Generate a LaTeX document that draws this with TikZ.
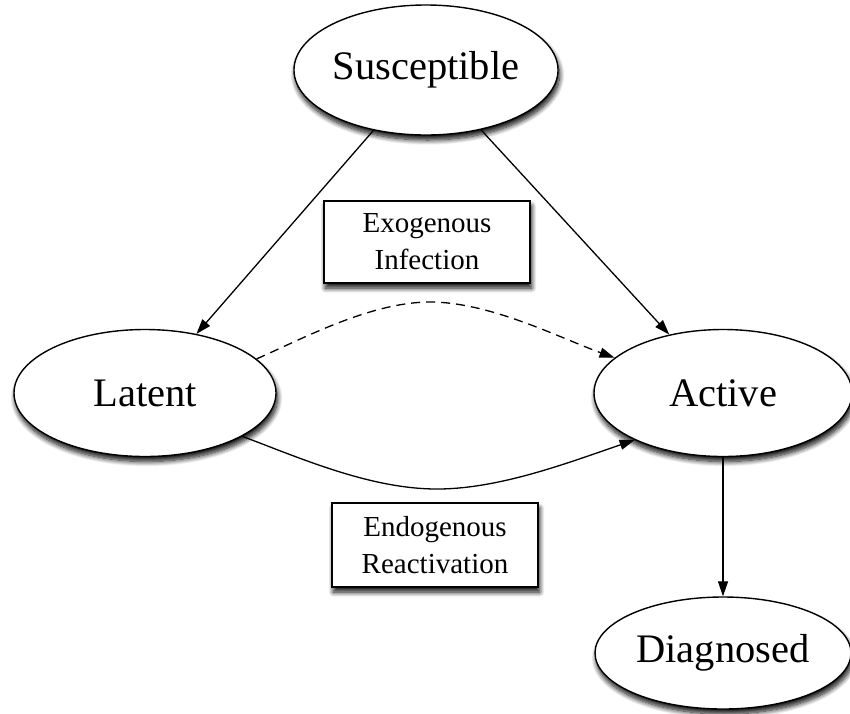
\documentclass[tikz,border=0pt]{standalone}
\usepackage{fontspec}
\setmainfont{Liberation Serif}
\usetikzlibrary{shapes.geometric,arrows.meta,shadows.blur}
\begin{document}
\begin{tikzpicture}[x=1pt,y=-1pt,
  softshadow/.style={blur shadow={shadow xshift=1.5pt,shadow yshift=-5pt,
      shadow blur radius=5pt,shadow blur steps=10,shadow opacity=95}},
  state/.style={ellipse,draw,line width=1.4pt,fill=white,softshadow,
      inner sep=0pt,font=\fontsize{40.5}{44}\selectfont},
  labelbox/.style={rectangle,draw,line width=1.4pt,fill=white,softshadow,
      align=center,inner sep=0pt,font=\fontsize{29}{37}\selectfont},
  flow/.style={line width=1.3pt,-{Triangle[length=15pt,width=10pt]}}]
\useasboundingbox (0,0) rectangle (850,713);

% compartments
\node[state,minimum width=264pt,minimum height=130pt] (S) at (426,70) {Susceptible};
\node[state,minimum width=262pt,minimum height=127pt] (L) at (145,393) {Latent};
\node[state,minimum width=258pt,minimum height=127pt] (A) at (723,393) {Active};
\node[state,minimum width=256pt,minimum height=112pt] (D) at (723,653) {Diagnosed};

% transition labels
\node[labelbox,minimum width=206pt,minimum height=82pt] (exo) at (427,242) {Exogenous\\Infection};
\node[labelbox,minimum width=206pt,minimum height=84pt] (endo) at (435,545) {Endogenous\\Reactivation};

% transitions
\draw[flow] (S) -- (L);
\draw[flow] (S) -- (A);
\draw[flow] (A) -- (D);
\draw[flow,dashed,dash pattern=on 9pt off 6pt] (L.17.6)
  .. controls (300,340) and (370,302) .. (430,302)
  .. controls (490,302) and (560,338) .. (A.162);
\draw[flow] (L.-24)
  .. controls (300,458) and (370,489) .. (437,489)
  .. controls (500,489) and (570,462) .. (A.-152);
\end{tikzpicture}
\end{document}
